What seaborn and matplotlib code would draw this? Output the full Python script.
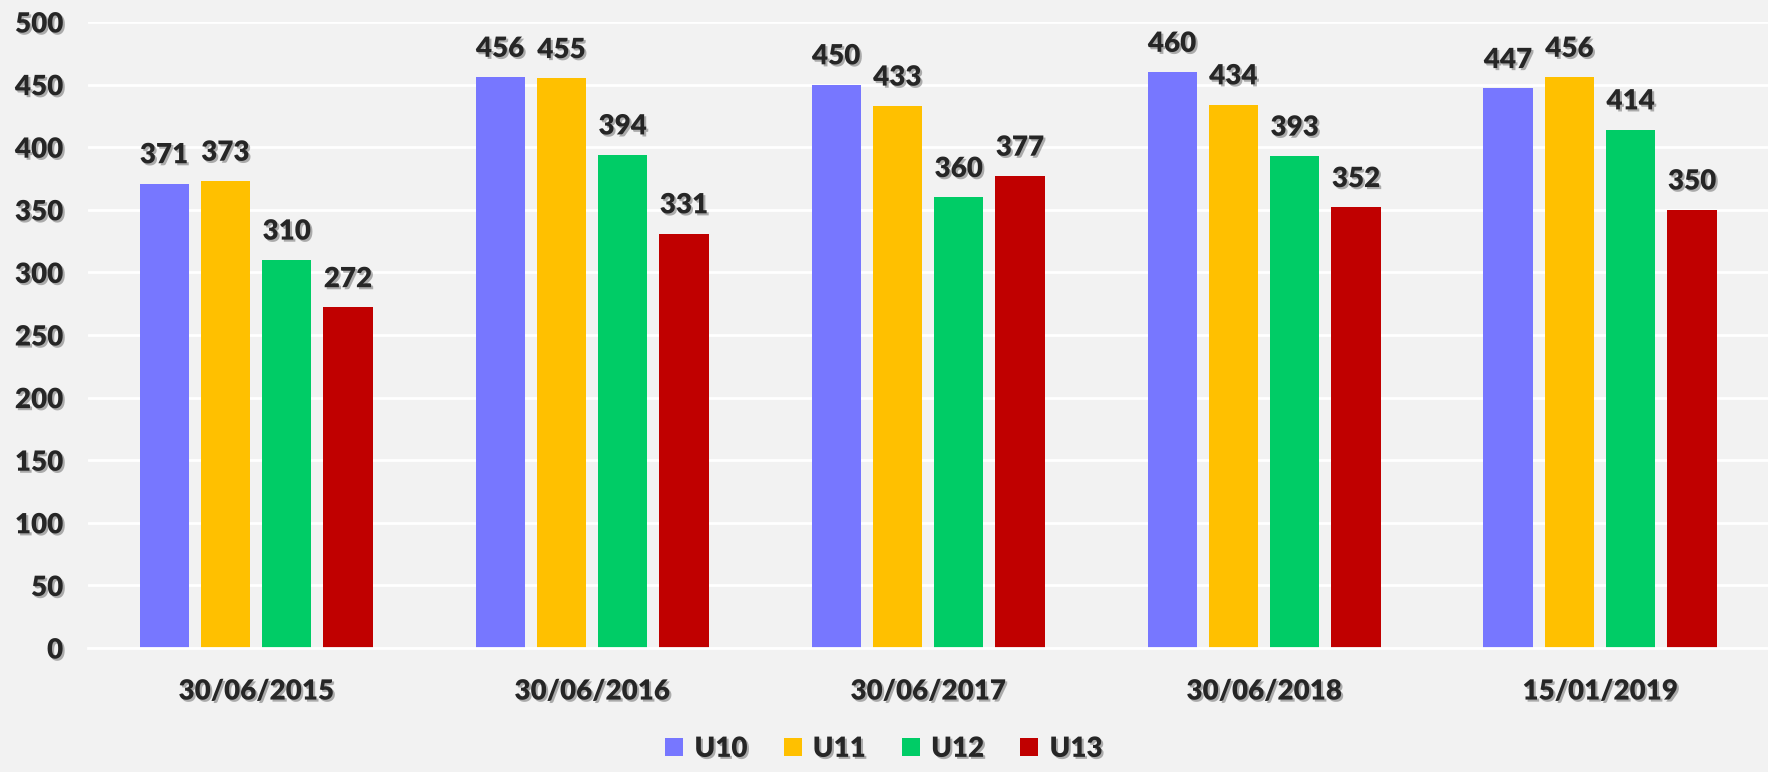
import pandas as pd
import matplotlib.pyplot as plt
import matplotlib.patheffects as pe
import seaborn as sns

# Values
dates = ['30/06/2015', '30/06/2016', '30/06/2017', '30/06/2018', '15/01/2019']
u10 = [371, 456, 450, 460, 447]
u11 = [373, 455, 433, 434, 456]
u12 = [310, 394, 360, 393, 414]
u13 = [272, 331, 377, 352, 350]
groups = ['U10', 'U11', 'U12', 'U13']
colors = ['#7777FF', '#FFC000', '#00CC66', '#C00000']

df = pd.DataFrame({'date': dates, 'U10': u10, 'U11': u11, 'U12': u12, 'U13': u13})
long_df = df.melt(id_vars='date', var_name='group', value_name='count')

sns.set_style('white')
plt.rcParams['font.family'] = ['Lato', 'DejaVu Sans']
plt.rcParams['font.weight'] = 'heavy'

shadow = [pe.SimplePatchShadow(offset=(1.5, -1.5), shadow_rgbFace='#555555', alpha=0.45), pe.Normal()]

fig = plt.figure(figsize=(17.68, 7.72), dpi=100)
fig.patch.set_facecolor('#F2F2F2')
ax = fig.add_axes([0.0498, 0.1606, 0.9502, 0.8109])
ax.set_facecolor('#F2F2F2')

sns.barplot(data=long_df, x='date', y='count', hue='group', hue_order=groups,
            palette=colors, width=0.73, gap=0.2, ax=ax, saturation=1, linewidth=0)

for cont in ax.containers:
    labels = ax.bar_label(cont, padding=11, fontsize=20, fontweight='heavy')
    for t in labels:
        t.set_path_effects(shadow)

ax.set_xlim(-0.5, 4.5)
ax.set_ylim(0, 500)
ax.set_yticks(range(0, 501, 50))
ax.yaxis.grid(True, color='white', linewidth=2)
ax.set_axisbelow(True)
ax.set_xlabel('')
ax.set_ylabel('')

for s in ['top', 'right', 'left']:
    ax.spines[s].set_visible(False)
ax.spines['bottom'].set_color('white')
ax.spines['bottom'].set_linewidth(2)

ax.set_xticks([i - 0.5 for i in range(6)], minor=True)
ax.tick_params(axis='x', which='minor', length=10, width=2, color='white', direction='out')
ax.tick_params(axis='x', which='major', length=0, pad=22, labelsize=20)
ax.tick_params(axis='y', length=0, pad=18, labelsize=20)
for t in ax.get_xticklabels() + ax.get_yticklabels():
    t.set_fontweight('heavy')
    t.set_path_effects(shadow)

handles, labs = ax.get_legend_handles_labels()
ax.legend_.remove()
leg = fig.legend(handles, labs, loc='center', bbox_to_anchor=(0.5, 0.03), ncol=4,
                 frameon=False, handlelength=0.65, handleheight=0.65,
                 handletextpad=0.4, columnspacing=1.3, prop={'size': 20, 'weight': 'heavy'})
for t in leg.get_texts():
    t.set_path_effects(shadow)

fig.savefig('out.png', dpi=100, facecolor=fig.get_facecolor())
